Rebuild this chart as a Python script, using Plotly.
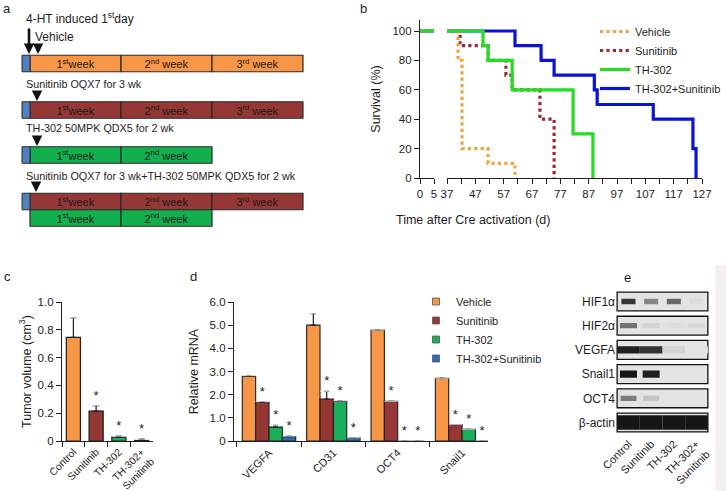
import plotly.graph_objects as go

FONT = "Arial, 'Liberation Sans', Helvetica, sans-serif"
W, H = 726, 491
INK = "#1e1e1e"

# ---------------- data: panel a (treatment schedule) ----------------
a_regimens = ["Sunitinib OQX7 for 3 wk", "TH-302 50MPK QDX5 for 2 wk",
              "Sunitinib OQX7 for 3 wk+TH-302 50MPK QDX5 for 2 wk"]
a_vehicle_label = "Vehicle"
a_induction_label = "4-HT induced 1<sup>st</sup>day"
a_row_drug = ["Vehicle", "Sunitinib", "TH-302", "Sunitinib", "TH-302"]
a_row_weeks = [3, 3, 2, 3, 2]
a_row_induction = [True, True, True, True, False]
a_week_labels = ["1<sup>st</sup>week", "2<sup>nd</sup> week", "3<sup>rd</sup> week"]

# ---------------- data: panel b (survival) ----------------
b_groups = ["Vehicle", "Sunitinib", "TH-302", "TH-302+Sunitinib"]
b_vehicle_t = [0, 40.9, 42.3, 51.5, 61.0]
b_vehicle_s = [100, 80, 20, 10, 0]
b_sunitinib_t = [0, 41.6, 51.5, 57.8, 60.0, 69.8, 74.8]
b_sunitinib_s = [100, 90, 80, 70, 60, 40, 0]
b_th302_t = [0, 49.7, 51.5, 60.0, 81.5, 88.5]
b_th302_s = [100, 90, 80, 60, 30, 0]
b_combo_t = [0, 61.0, 70.2, 74.8, 89.0, 90.0, 109.8, 123.8, 124.9]
b_combo_s = [100, 90, 80, 70, 60, 50, 40, 20, 0]
b_xticks_early = [0, 5]
b_xticks_late = [37, 47, 57, 67, 77, 87, 97, 107, 117, 127]
b_yticks = [0, 20, 40, 60, 80, 100]

# ---------------- data: panel c (tumor volume) ----------------
c_groups = ["Control", "Sunitinib", "TH-302", "TH-302+<br>Sunitinib"]
c_volume = [0.745, 0.215, 0.028, 0.004]
c_err = [0.14, 0.04, 0.007, 0.009]
c_sig = ["", "*", "*", "*"]
c_yticks = [0, 0.2, 0.4, 0.6, 0.8, 1.0]
c_yticklabels = ["0", "0.2", "0.4", "0.6", "0.8", "1.0"]

# ---------------- data: panel d (relative mRNA) ----------------
d_genes = ["VEGFA", "CD31", "OCT4", "Snail1"]
d_series = ["Vehicle", "Sunitinib", "TH-302", "TH-302+Sunitinib"]
d_vehicle = [2.79, 5.00, 4.79, 2.71]
d_sunitinib = [1.67, 1.81, 1.71, 0.71]
d_th302 = [0.60, 1.71, 0.0, 0.50]
d_combo = [0.19, 0.14, 0.0, 0.0]
d_vehicle_err = [0.03, 0.50, 0.0, 0.0]
d_sunitinib_err = [0.03, 0.33, 0.0, 0.0]
d_th302_err = [0.08, 0.02, 0.0, 0.0]
d_combo_err = [0.02, 0.0, 0.0, 0.0]
d_vehicle_sig = ["", "", "", ""]
d_sunitinib_sig = ["*", "*", "*", "*"]
d_th302_sig = ["*", "*", "*", "*"]
d_combo_sig = ["*", "*", "*", "*"]
d_yticks = [0, 1, 2, 3, 4, 5, 6]
d_yticklabels = ["0", "1.0", "2.0", "3.0", "4.0", "5.0", "6.0"]

# ---------------- data: panel e (western blot) ----------------
e_proteins = ["HIF1α", "HIF2α", "VEGFA", "Snail1", "OCT4", "β-actin"]
e_lanes = ["Control", "Sunitinib", "TH-302", "TH-302+<br>Sunitinib"]
e_intensity = [
    [0.85, 0.45, 0.60, 0.04],
    [0.55, 0.08, 0.03, 0.05],
    [0.95, 0.85, 0.08, 0.00],
    [1.00, 0.95, 0.00, 0.00],
    [0.50, 0.15, 0.00, 0.00],
    [1.00, 1.00, 1.00, 1.00],
]

# ---------------- styles / geometry ----------------
ORANGE, RED, GREEN, BLUE = "#f79646", "#953735", "#1aae5a", "#2a6fb6"
A_COL = {"Vehicle": "#f79646", "Sunitinib": "#953735", "TH-302": "#12b04c"}
A_IND_COL = "#4f81bd"
A_ROW_Y = [63.5, 110, 155, 201.5, 218]    # panel-a layout rows (px units)
A_BAR_H = 16.5
A_IND_LEN = 0.088
B_STYLE = {
    "Vehicle": dict(color="#f5a23e", dash="dot", width=3.2),
    "Sunitinib": dict(color="#9b2a2e", dash="dot", width=3.2),
    "TH-302": dict(color="#22dd22", dash="solid", width=3.2),
    "TH-302+Sunitinib": dict(color="#0a14d8", dash="solid", width=3.2),
}
D_COL = [ORANGE, RED, GREEN, BLUE]
E_BOX = 227
E_BAND_W = [0.62, 0.75, 1.0, 0.75, 0.7, 1.0]
E_BAND_H = [0.22, 0.22, 0.3, 0.3, 0.22, 0.6]


def px(x):
    return x / W


def py(y):
    return 1 - y / H


fig = go.Figure()

# ---------------- panel a ----------------
for r, drug in enumerate(a_row_drug):
    n = a_row_weeks[r]
    fig.add_trace(go.Bar(
        orientation="h", x=[1] * n, base=list(range(n)), y=[A_ROW_Y[r]] * n,
        width=A_BAR_H, offsetgroup="a", xaxis="x", yaxis="y",
        marker=dict(color=A_COL[drug], line=dict(color="#2a2a2a", width=1.2)),
        text=a_week_labels[:n], textposition="inside", insidetextanchor="middle",
        constraintext="none", textangle=0,
        insidetextfont=dict(color="#1a1a1a", size=11, family=FONT),
        showlegend=False, hoverinfo="skip"))
ind_rows = [A_ROW_Y[r] for r in range(len(a_row_drug)) if a_row_induction[r]]
fig.add_trace(go.Bar(
    orientation="h", x=[A_IND_LEN] * len(ind_rows), base=[-A_IND_LEN] * len(ind_rows),
    y=ind_rows, width=A_BAR_H, offsetgroup="a", xaxis="x", yaxis="y",
    marker=dict(color=A_IND_COL, line=dict(color="#2a2a2a", width=1.0)),
    showlegend=False, hoverinfo="skip"))

# ---------------- panel b ----------------
b_data = [(b_vehicle_t, b_vehicle_s), (b_sunitinib_t, b_sunitinib_s),
          (b_th302_t, b_th302_s), (b_combo_t, b_combo_s)]
draw_order = [3, 1, 0, 2]
for k in draw_order:
    name = b_groups[k]
    t, s = b_data[k]
    for xa in ["x2", "x3"]:
        fig.add_trace(go.Scatter(
            x=t, y=s, mode="lines", line=dict(shape="hv", **B_STYLE[name]),
            name=name, legendgroup=name, legendrank=k + 1,
            showlegend=(xa == "x3"), legend="legend",
            xaxis=xa, yaxis="y2", hoverinfo="skip"))

# ---------------- panel c ----------------
c_top = [v + e for v, e in zip(c_volume, c_err)]
fig.add_trace(go.Bar(
    x=c_groups, y=c_volume, width=0.62, offsetgroup="c", xaxis="x4", yaxis="y4",
    marker=dict(color=[ORANGE, RED, GREEN, BLUE], line=dict(color=INK, width=1.2)),
    error_y=dict(type="data", symmetric=False, array=c_err, arrayminus=[0] * 4,
                 color=INK, thickness=1.2, width=3),
    showlegend=False, hoverinfo="skip"))
fig.add_trace(go.Bar(
    x=c_groups, y=[0.0001] * 4, base=c_top, width=0.62, offsetgroup="c",
    xaxis="x4", yaxis="y4", marker=dict(color="rgba(0,0,0,0)"),
    text=c_sig, textposition="outside", constraintext="none", cliponaxis=False,
    outsidetextfont=dict(color=INK, size=13, family=FONT),
    showlegend=False, hoverinfo="skip"))

# ---------------- panel d ----------------
d_vals = [d_vehicle, d_sunitinib, d_th302, d_combo]
d_errs = [d_vehicle_err, d_sunitinib_err, d_th302_err, d_combo_err]
d_sigs = [d_vehicle_sig, d_sunitinib_sig, d_th302_sig, d_combo_sig]
for k, name in enumerate(d_series):
    fig.add_trace(go.Bar(
        x=d_genes, y=d_vals[k], offsetgroup=f"d{k}", xaxis="x5", yaxis="y5",
        marker=dict(color=D_COL[k], line=dict(color=INK, width=1.1)),
        error_y=dict(type="data", symmetric=False, array=d_errs[k],
                     arrayminus=[0] * 4, color=INK, thickness=1.2, width=2.5),
        showlegend=False, hoverinfo="skip"))
    fig.add_trace(go.Bar(
        x=d_genes, y=[0.0001] * 4, base=[v + e for v, e in zip(d_vals[k], d_errs[k])],
        offsetgroup=f"d{k}", xaxis="x5", yaxis="y5",
        marker=dict(color="rgba(0,0,0,0)"),
        text=d_sigs[k], textposition="outside", constraintext="none", cliponaxis=False,
        outsidetextfont=dict(color=INK, size=13, family=FONT),
        showlegend=False, hoverinfo="skip"))
    fig.add_trace(go.Scatter(
        x=[None], y=[None], mode="markers", name=name, legend="legend2",
        marker=dict(symbol="square", size=7, color=D_COL[k],
                    line=dict(color="#555", width=0.8)),
        xaxis="x5", yaxis="y5", hoverinfo="skip"))

# ---------------- panel e ----------------
fig.add_trace(go.Bar(
    orientation="h", y=e_proteins, x=[4] * len(e_proteins), base=[-0.5] * len(e_proteins),
    width=0.78, offsetgroup="e", xaxis="x6", yaxis="y6",
    marker=dict(color=f"rgb({E_BOX},{E_BOX},{E_BOX})", line=dict(color="#111", width=1.3)),
    showlegend=False, hoverinfo="skip"))


def band_color(i):
    v = int(round(E_BOX - (E_BOX - 22) * i))
    return f"rgb({v},{v},{v})"


for l in range(len(e_lanes)):
    fig.add_trace(go.Bar(
        orientation="h", y=e_proteins, x=E_BAND_W,
        base=[l - w / 2 for w in E_BAND_W], width=E_BAND_H,
        offsetgroup="e", xaxis="x6", yaxis="y6",
        marker=dict(color=[band_color(row[l]) for row in e_intensity], line=dict(width=0)),
        showlegend=False, hoverinfo="skip"))

# ---------------- layout ----------------
axis_common = dict(showgrid=False, zeroline=False, linecolor=INK, linewidth=1.2,
                   tickcolor=INK, ticklen=5, tickwidth=1.2, automargin=False,
                   tickfont=dict(size=11.5, color=INK, family=FONT))

fig.update_layout(
    width=W, height=H, margin=dict(l=0, r=0, t=0, b=0, pad=0, autoexpand=False),
    paper_bgcolor="white", plot_bgcolor="rgba(0,0,0,0)",
    font=dict(family=FONT, color=INK, size=11),
    barmode="group", bargap=0.17, bargroupgap=0,
    xaxis=dict(domain=[0, px(330)], range=[-0.33, 3.297], visible=False, anchor="y"),
    yaxis=dict(domain=[py(240), 1], range=[240, 0], visible=False, anchor="x"),
    xaxis2=dict(domain=[px(420), px(434)], range=[0, 5], anchor="y2", showline=True,
                ticks="outside", tickvals=b_xticks_early, **axis_common),
    xaxis3=dict(domain=[px(447), px(702)], range=[37, 127], anchor="y2", showline=True,
                ticks="outside", tickvals=b_xticks_late,
                minor=dict(ticks="outside", dtick=5, tick0=37, ticklen=5,
                           tickcolor=INK, tickwidth=1.2),
                **axis_common),
    yaxis2=dict(domain=[py(178), py(20)], range=[0, 107.5], anchor="x2", showline=True,
                ticks="outside", tickvals=b_yticks,
                title=dict(text="Survival (%)", font=dict(size=12.5, family=FONT), standoff=9),
                **axis_common),
    xaxis4=dict(domain=[px(62), px(153)], anchor="y4", showline=True, ticks="outside",
                tickson="boundaries", tickangle=-45, type="category",
                **{**axis_common, "tickfont": dict(size=10.3, color=INK, family=FONT)}),
    yaxis4=dict(domain=[py(441), py(302)], range=[0, 1.0], anchor="x4", showline=True,
                ticks="outside", tickvals=c_yticks, ticktext=c_yticklabels,
                title=dict(text="Tumor volume (cm<sup>3</sup>)", font=dict(size=12.5, family=FONT),
                           standoff=3),
                **axis_common),
    xaxis5=dict(domain=[px(234), px(488)], range=[-0.544, 3.403], anchor="y5", showline=True,
                ticks="outside", tickson="boundaries", tickangle=-45, type="category",
                **{**axis_common, "tickfont": dict(size=11, color=INK, family=FONT)}),
    yaxis5=dict(domain=[py(441), py(302)], range=[0, 6], anchor="x5", showline=True,
                ticks="outside", tickvals=d_yticks, ticktext=d_yticklabels,
                title=dict(text="Relative mRNA", font=dict(size=12.5, family=FONT), standoff=8),
                **axis_common),
    xaxis6=dict(domain=[px(616), px(709)], range=[-0.55, 3.55], anchor="y6", showline=False,
                ticks="", tickvals=[0, 1, 2, 3], ticktext=e_lanes, tickangle=-45,
                showgrid=False, zeroline=False, automargin=False,
                tickfont=dict(size=11, color=INK, family=FONT)),
    yaxis6=dict(domain=[py(434.6), py(289.4)], anchor="x6", type="category",
                categoryarray=e_proteins, range=[5.5, -0.5], showline=False, ticks="",
                showgrid=False, zeroline=False, automargin=False,
                tickfont=dict(size=12, color=INK, family=FONT)),
    legend=dict(x=1, y=py(17), xanchor="right", yanchor="top", bgcolor="rgba(0,0,0,0)",
                font=dict(size=11, family=FONT, color=INK), tracegroupgap=0,
                itemwidth=30, traceorder="normal"),
    legend2=dict(x=px(416), y=py(287), xanchor="left", yanchor="top",
                 bgcolor="rgba(0,0,0,0)", font=dict(size=11, family=FONT, color=INK)),
    shapes=[dict(type="rect", xref="paper", yref="paper", x0=px(715), x1=1, y0=0, y1=py(265),
                 fillcolor="#f4f0f0", line=dict(width=0), layer="below")],
)

ann = []
for letter, (lx, ly) in zip("abcde", [(7, 8), (363, 9), (7, 276), (193, 276), (627, 277)]):
    ann.append(dict(text=letter, x=px(lx), y=py(ly), xref="paper", yref="paper",
                    xanchor="center", yanchor="middle", showarrow=False,
                    font=dict(size=13, family=FONT, color=INK)))
ann.append(dict(text="Time after Cre activation (d)", x=px(552), y=py(220), xref="paper",
                yref="paper", showarrow=False, font=dict(size=12.5, family=FONT, color=INK)))

# panel a texts
a_text = [(a_induction_label, -0.066, 18, 12), (a_vehicle_label, 0.033, 37, 12)]
for lbl, yy in zip(a_regimens, [84, 128, 176]):
    a_text.append((lbl, -0.066, yy, 10.8))
for t, xx, yy, fs in a_text:
    ann.append(dict(text=t, x=xx, y=yy, xref="x", yref="y", xanchor="left",
                    yanchor="middle", showarrow=False,
                    font=dict(size=fs, family=FONT, color=INK)))
# panel a arrows
for xx, y_tail, y_head in [(-0.011, 27, 54), (0.088, 43, 54), (0.077, 91, 101),
                           (0.077, 135, 146), (0.066, 181, 192)]:
    ann.append(dict(text="", x=xx, y=y_head, ax=xx, ay=y_tail, xref="x", yref="y",
                    axref="x", ayref="y", showarrow=True, arrowhead=2, arrowsize=0.8,
                    arrowwidth=2.6, arrowcolor="#111"))
fig.update_layout(annotations=ann)

fig.write_html("out.html", config={"displayModeBar": False},
               post_script="document.body.style.margin='0';")
